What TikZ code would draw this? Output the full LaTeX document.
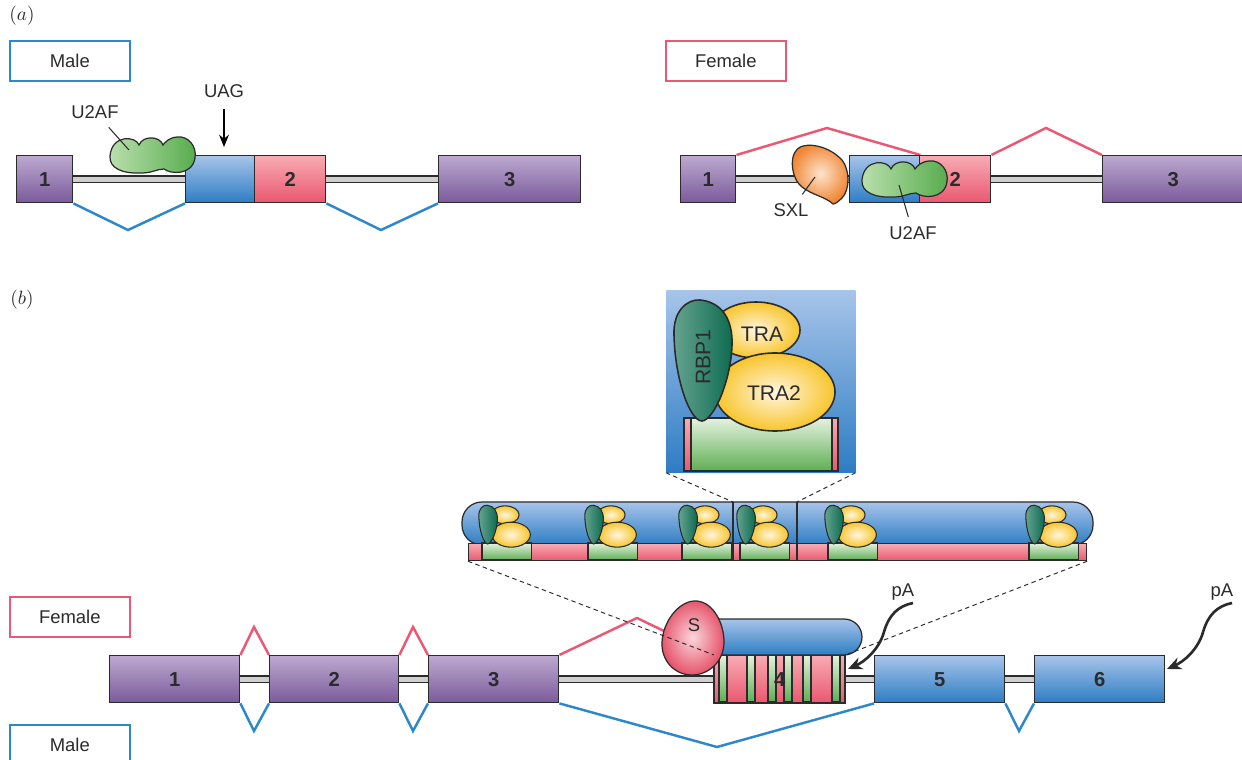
\documentclass[tikz,border=0pt]{standalone}
\usepackage[no-math]{fontspec}
\setsansfont{Liberation Sans}
\usepackage{xcolor}
\usepackage{tikz}
\usetikzlibrary{arrows.meta}

\definecolor{ink}{HTML}{2B2B2B}
\definecolor{malecol}{HTML}{2C87CC}
\definecolor{femcol}{HTML}{EC5873}
\definecolor{purptop}{HTML}{BCA9D0}
\definecolor{purpbot}{HTML}{7B5A9B}
\definecolor{bluetop}{HTML}{A7C4E9}
\definecolor{bluebot}{HTML}{2D7DC4}
\definecolor{pinktop}{HTML}{F8ABB3}
\definecolor{pinkbot}{HTML}{E9586F}
\definecolor{greentop}{HTML}{E4F2DF}
\definecolor{greenbot}{HTML}{5FAE55}
\definecolor{introngray}{HTML}{CFCFCF}
\definecolor{uaflight}{HTML}{BADFAD}
\definecolor{uafdark}{HTML}{56AC4C}
\definecolor{sxlin}{HTML}{FDE4CD}
\definecolor{sxlout}{HTML}{F08634}
\definecolor{yelin}{HTML}{FFF6DF}
\definecolor{yelout}{HTML}{F8C52C}
\definecolor{tealL}{HTML}{66A491}
\definecolor{tealR}{HTML}{0C6A4F}
\definecolor{sin}{HTML}{FBD6DB}
\definecolor{sout}{HTML}{E6546B}

\newdimen\pxu
\pxu=0.02cm

\pgfdeclarelayer{background}
\pgfsetlayers{background,main}

\begin{document}
\begin{tikzpicture}[x=0.02cm, y=-0.02cm,
    every node/.style={text=ink, font=\sffamily\fontsize{10.5}{12}\selectfont},
    exon/.style={draw=ink, line width=0.8pt, inner sep=0pt, anchor=north west,
      minimum height=47*\pxu, font=\sffamily\bfseries\fontsize{11.5}{13}\selectfont},
    purpx/.style={exon, top color=purptop, bottom color=purpbot},
    bluex/.style={exon, top color=bluetop, bottom color=bluebot},
    pinkx/.style={exon, top color=pinktop, bottom color=pinkbot},
    intron/.style={draw=ink, line width=0.8pt, double=introngray, double distance=3pt},
    maleline/.style={malecol, line width=1.4pt},
    femline/.style={femcol, line width=1.4pt},
    tagbox/.style={draw=#1, line width=0.9pt, fill=white, anchor=north west,
      minimum width=120*\pxu, minimum height=40*\pxu},
    rim/.style={draw=ink, line width=0.7pt},
    leader/.style={ink, line width=0.6pt, shorten <=2pt},
    zoomline/.style={ink, line width=0.55pt, dash pattern=on 2.5pt off 2pt},
    pAarrow/.style={ink, line width=1.5pt, -{Stealth[length=8pt, width=7pt]}},
    bigtxt/.style={font=\sffamily\fontsize{12}{14}\selectfont},
    % U2AF cloud, centred on the pic origin
    uaf/.pic={
      \draw[rim, left color=uaflight, right color=uafdark]
        (-13,-11) .. controls (-16,-20) and (-40,-22) .. (-42,0)
        .. controls (-43,12) and (-30,18) .. (-10,17)
        .. controls (0,17) and (5,13) .. (12,13)
        .. controls (18,18) and (40,20) .. (43,2)
        .. controls (45,-10) and (36,-20) .. (26,-19)
        .. controls (18,-19) and (13,-14) .. (11,-11)
        .. controls (8,-20) and (-9,-21) .. (-13,-11) -- cycle;
    },
    % RBP1/TRA/TRA2 on its binding repeat, origin at the repeat's top left
    trio/.pic={
      \draw[draw=ink, top color=greentop, bottom color=greenbot] (0,0) rectangle (154,53);
      \draw[draw=ink, inner color=yelin, outer color=yelout] (72,-88) ellipse [x radius=44, y radius=28];
      \draw[draw=ink, inner color=yelin, outer color=yelout] (91,-26) ellipse [x radius=60, y radius=39];
      \draw[draw=ink, left color=tealL, right color=tealR]
        (18,3) .. controls (6,3) and (-9,-38) .. (-10,-83)
        .. controls (-11,-108) and (4,-119) .. (16,-118)
        .. controls (38,-116) and (49,-98) .. (48,-73)
        .. controls (47,-38) and (30,2) .. (18,3) -- cycle;
    }]
\useasboundingbox (0,0) rectangle (1242,760);
\clip (0,0) rectangle (1242,760);

% panel letters
\node (tagA) at (22,16) {$(a)$};
\node (tagB) at (22,300) {$(b)$};

% (a) male
\node[tagbox=malecol] (amale) at (9,40) {Male};
\node[purpx, minimum width=56*\pxu] (am1) at (16,155) {1};
\node[bluex, minimum width=69*\pxu] (amb) at (185,155) {};
\node[pinkx, minimum width=71*\pxu] (am2) at (254,155) {2};
\node[purpx, minimum width=142*\pxu] (am3) at (438,155) {3};
\begin{pgfonlayer}{background}
  \draw[intron] (am1.east) -- (am3.west);
  \draw[maleline] (am1.south east) -- (128,230) -- (amb.south west);
  \draw[maleline] (am2.south east) -- (381,230) -- (am3.south west);
\end{pgfonlayer}
\pic at (152,156) {uaf};
\node (amu) at (95,112) {U2AF};
\draw[leader] (amu) -- (129,150);
\node (uag) at (224,91) {UAG};
\draw[line width=1.1pt, -{Stealth[length=7pt, width=5.5pt]}, shorten <=3pt, shorten >=4.5pt]
  (uag) -- (uag |- amb.north);

% (a) female
\node[tagbox=femcol] (afem) at (665,40) {Female};
\node[purpx, minimum width=55*\pxu] (af1) at (680,155) {1};
\node[bluex, minimum width=70.5*\pxu] (afb) at (848.5,155) {};
\node[pinkx, minimum width=71*\pxu] (af2) at (919,155) {2};
\node[purpx, minimum width=141*\pxu] (af3) at (1102,155) {3};
\begin{pgfonlayer}{background}
  \draw[intron] (af1.east) -- (af3.west);
  \draw[femline] (af1.north east) -- (827,128) -- (afb.north east);
  \draw[femline] (af2.north east) -- (1046,128) -- (af3.north west);
\end{pgfonlayer}
% SXL
\draw[rim, inner color=sxlin, outer color=sxlout]
  (803,146) .. controls (815,143) and (832,149) .. (842,160)
  .. controls (850,170) and (850,190) .. (842,198)
  .. controls (838,202) and (835,204) .. (833,204)
  .. controls (826,197) and (812,195) .. (802,187)
  .. controls (793,180) and (791,165) .. (793,157)
  .. controls (795,150) and (799,147) .. (803,146) -- cycle;
\pic at (904,180) {uaf};
\node (sxl) at (791,210) {SXL};
\draw[leader] (sxl) -- (815,177);
\node (afu) at (913,233) {U2AF};
\draw[leader] (afu) -- (899,185);

% (b) close-up of one repeat
\node[anchor=north west, inner sep=0pt, minimum width=189*\pxu, minimum height=182*\pxu,
  top color=bluetop, bottom color=bluebot] (inset) at (666,290) {};
\pic[line width=0.9pt] at (684,418) {trio};
\draw[rim, line width=0.9pt, top color=pinktop, bottom color=pinkbot] (684,418) rectangle (691,471);
\draw[rim, line width=0.9pt, top color=pinktop, bottom color=pinkbot] (832,418) rectangle (838,471);
\node[bigtxt, rotate=90] (rbp) at (703,357) {RBP1};
\node[bigtxt] (tra) at (762,334) {TRA};
\node[bigtxt] (tra2) at (774,393) {TRA2};

% (b) exon 4 with all repeats bound
\draw[rim, top color=bluetop, bottom color=bluebot, rounded corners=0.4cm] (462,502) rectangle (1093,545);
\node[anchor=north west, inner sep=0pt, minimum width=618*\pxu, minimum height=17*\pxu,
  draw=ink, line width=0.7pt, top color=pinktop, bottom color=pinkbot] (strip) at (468,543) {};
\foreach \g in {482,588,682,740,828,1029}
  \pic[scale=0.32, line width=0.6pt] at (\g,543) {trio};
\coordinate (winl) at (733,502);
\coordinate (winr) at (797,502);
\draw[rim] (winl) -- (winl |- strip.south);
\draw[rim] (winr) -- (winr |- strip.south);

% (b) gene
\node[tagbox=femcol] (bfem) at (9,596) {Female};
\node[tagbox=malecol] (bmale) at (9,724) {Male};
\node[purpx, minimum width=130*\pxu] (bx1) at (109,655) {1};
\node[purpx, minimum width=129*\pxu] (bx2) at (269,655) {2};
\node[purpx, minimum width=130*\pxu] (bx3) at (428,655) {3};
\node[pinkx, minimum width=130*\pxu] (bx4) at (714,655) {};
\node[bluex, minimum width=130*\pxu] (bx5) at (874,655) {5};
\node[bluex, minimum width=130*\pxu] (bx6) at (1034,655) {6};
\begin{pgfonlayer}{background}
  \draw[intron] (bx1.east) -- (bx6.west);
  \draw[femline] (bx1.north east) -- (254,627) -- (bx2.north west);
  \draw[femline] (bx2.north east) -- (413,627) -- (bx3.north west);
  \draw[femline] (bx3.north east) -- (637,618) -- (bx4.north west);
  \draw[maleline] (bx1.south east) -- (254,731) -- (bx2.south west);
  \draw[maleline] (bx2.south east) -- (413,731) -- (bx3.south west);
  \draw[maleline] (bx3.south east) -- (717,747) -- (bx5.south west);
  \draw[maleline] (bx5.south east) -- (1019,731) -- (bx6.south west);
\end{pgfonlayer}
\foreach \a/\b in {719/727, 747/755, 768/776, 784/792, 803/811, 832/840}
  \draw[rim, line width=0.6pt, top color=greentop, bottom color=greenbot] (\a,655) rectangle (\b,702);
\draw[rim, line width=0.8pt] (bx4.north west) rectangle (bx4.south east);
\node[font=\sffamily\bfseries\fontsize{11.5}{13}\selectfont] (n4) at (bx4.center) {4};
\draw[rim, top color=bluetop, bottom color=bluebot, rounded corners=0.36cm] (700,619) rectangle (862,655);
% SXL on exon 4
\draw[rim, inner color=sin, outer color=sout]
  (694,601) .. controls (712,600) and (724,622) .. (724,642)
  .. controls (724,662) and (708,675) .. (692,675)
  .. controls (674,675) and (661,660) .. (662,642)
  .. controls (663,622) and (678,602) .. (694,601) -- cycle;
\node (sl) at (694,625) {S};

% poly(A) sites
\node (pa1) at (903,592) {pA};
\node (pa2) at (1222,592) {pA};
\coordinate (pa1tail) at (913,603);
\coordinate (pa1tip) at (848,669);
\coordinate (pa2tail) at (1232,603);
\coordinate (pa2tip) at (1167,669);
\draw[pAarrow] (pa1tail) .. controls (898,606) and (889,615) .. (884,632)
  .. controls (879,650) and (864,662) .. (pa1tip);
\draw[pAarrow] (pa2tail) .. controls (1217,606) and (1208,615) .. (1203,632)
  .. controls (1198,650) and (1183,662) .. (pa2tip);

% zoom guides
\draw[zoomline] (inset.south west) -- (winl);
\draw[zoomline] (inset.south east) -- (winr);
\draw[zoomline] (strip.south west) -- (bx4.north west);
\draw[zoomline] (strip.south east) -- (bx4.north east);
\end{tikzpicture}
\end{document}
